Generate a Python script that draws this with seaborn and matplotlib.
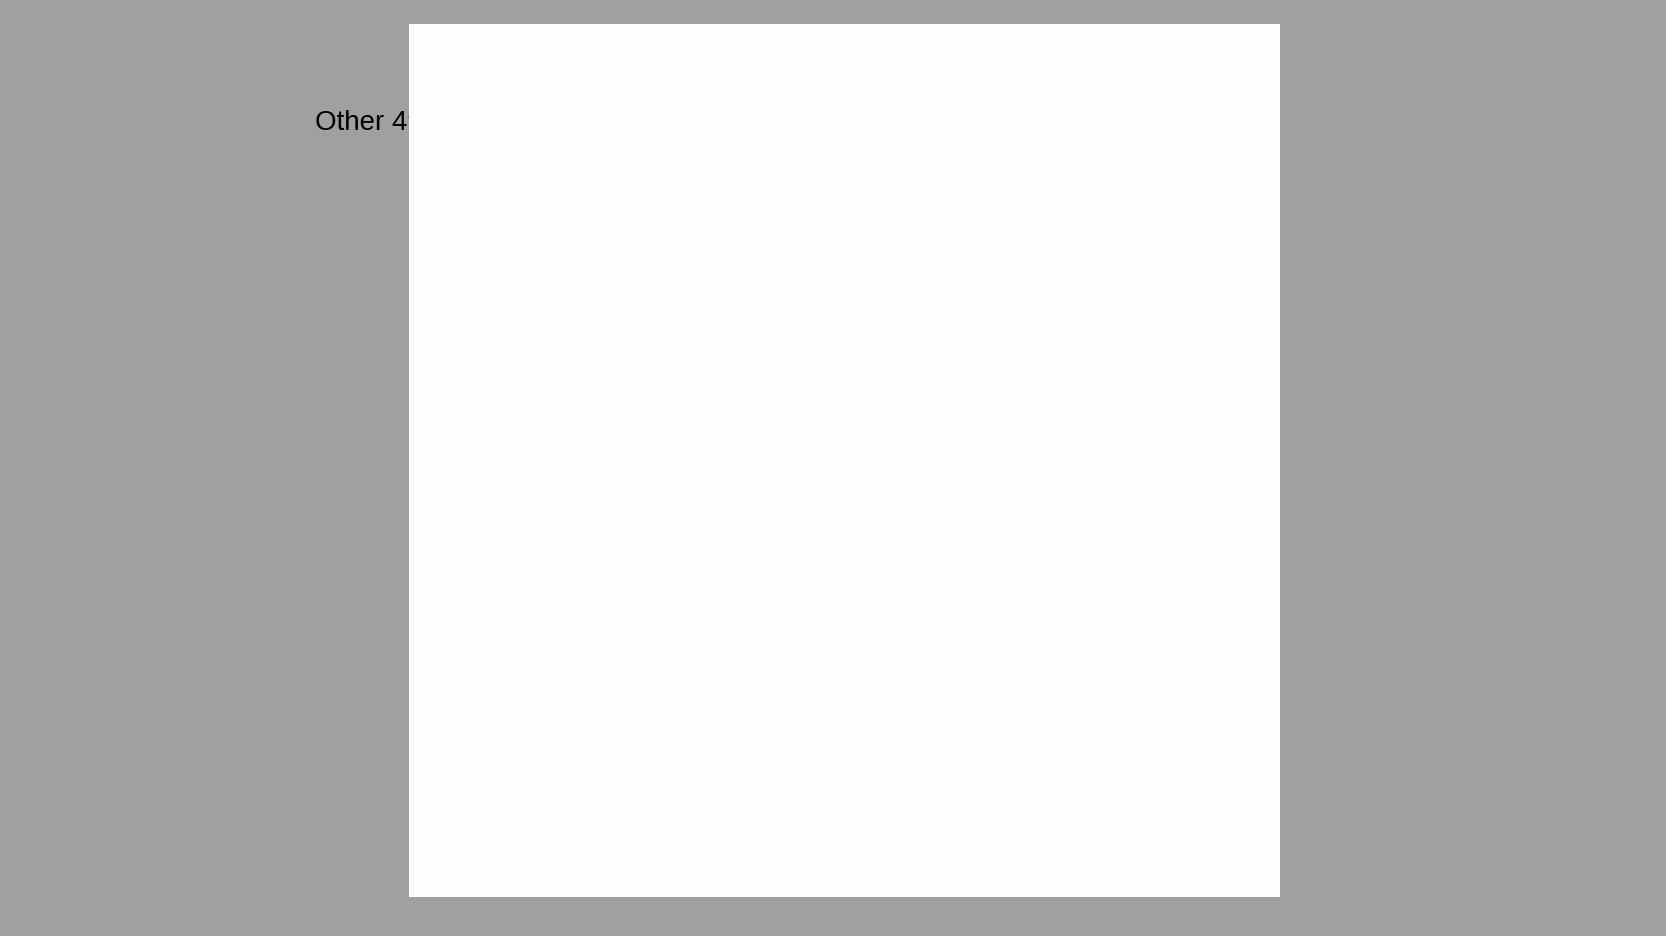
import matplotlib
matplotlib.use("Agg")
import matplotlib.pyplot as plt
import seaborn as sns
from matplotlib.patches import Rectangle

sns.set_theme(style="white")
plt.rcParams['font.family'] = ['Liberation Sans', 'DejaVu Sans']

# slices, clockwise from the top
labels = ["Stock A"] + ["s%d" % i for i in range(1, 25)]
values = [73.2, 1.6, 1.3, 1.2, 1.2, 1.3, 1.2, 1.3, 1.2, 1.0, 0.5, 1.0, 1.0,
          1.3, 1.0, 0.9, 1.2, 1.0, 1.0, 1.0, 1.1, 1.0, 1.0, 1.1, 1.0]
kinds = ["blue", "gray", "orange", "green", "green", "gray", "gray", "green", "green",
         "gray", "green", "gray", "gray", "orange", "gray", "gray", "green", "gray",
         "gray", "gray", "gray", "green", "green", "gray", "orange"]
palette = {"blue": "#0A7CF2", "gray": "#C9C9C9", "green": "#BDF2CC", "orange": "#F9D2AE"}

fig = plt.figure(figsize=(16.66, 9.37), dpi=100)
fig.patch.set_facecolor("#9EA0A2")
fig.patches.append(Rectangle((0.2455, 0.042), 0.523, 0.931, transform=fig.transFigure,
                             facecolor="#FDFDFB", edgecolor="none", zorder=0))
ax = fig.add_axes([0.2455, 0.042, 0.523, 0.931])
ax.patch.set_alpha(0)

ax.pie(values, colors=[palette[k] for k in kinds], startangle=90, counterclock=False,
       radius=1, wedgeprops=dict(width=0.73, edgecolor="black", linewidth=1.3))
ax.set_xlim(-1.114, 1.114)
ax.set_ylim(-1.116, 1.116)
ax.set_aspect("equal")

ax.text(0.48, -0.55, "Stock A: 35%", color="white", fontsize=21, fontweight="bold",
        ha="center", va="center")

ax.text(-0.845, 0.99, "Other", fontsize=20, color="black", ha="right", va="center")
ax.plot([-0.81, -0.2, -0.11], [0.99, 0.99, 0.95], color="black", lw=1)
ax.text(-0.845, 0.865, "Other 49 Stocks", fontsize=20, color="black", ha="right", va="center")
ax.plot([-0.81, -0.715, -0.59], [0.865, 0.865, 0.695], color="black", lw=1)

fig.savefig("out.png", dpi=100, facecolor=fig.get_facecolor())
